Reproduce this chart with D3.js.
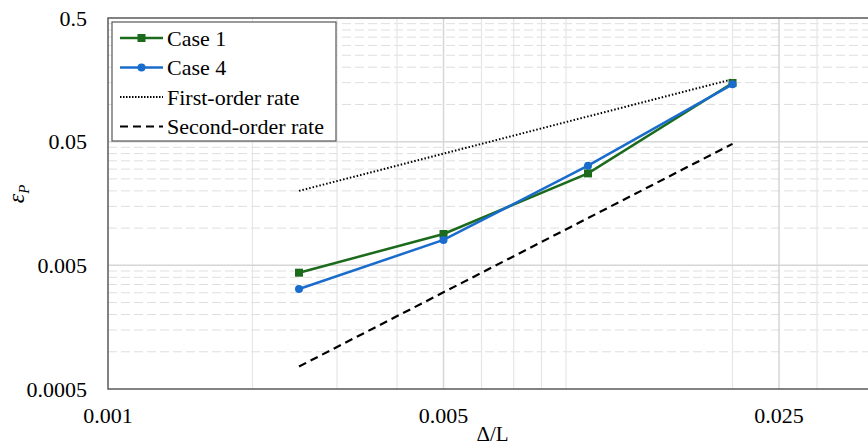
<!DOCTYPE html>
<html>
<head>
<meta charset="utf-8">
<script src="https://cdn.jsdelivr.net/npm/d3@7"></script>
<style>
  body { margin: 0; background: #fff; }
  svg { display: block; }
</style>
</head>
<body>
<div id="chart"></div>
<script>
// data
var xValues     = [0.0025, 0.005, 0.01, 0.02];
var case1       = [0.00436, 0.00896, 0.0277, 0.149];
var case4       = [0.00322, 0.00802, 0.0320, 0.1455];
var rateX       = [0.0025, 0.02];
var firstOrder  = [0.02, 0.16];
var secondOrder = [0.00076, 0.048];
var xTickValues = [0.001, 0.005, 0.025];
var yTickValues = [0.5, 0.05, 0.005, 0.0005];
var legendNames = ["Case 1", "Case 4", "First-order rate", "Second-order rate"];

var W = 868, H = 446;
var pLeft = 108, pTop = 18, pRight = 877, pBottom = 389;

var x = d3.scaleLog().domain([0.001, 0.04]).range([pLeft, pRight]);
var y = d3.scaleLog().domain([0.0005, 0.5]).range([pBottom, pTop]);

var svg = d3.select("#chart").append("svg")
    .attr("width", W)
    .attr("height", H)
    .style("font-family", "Liberation Serif");

/* minor gridlines */
var xMinor = [];
[0.001, 0.01].forEach(function(b) {
  d3.range(2, 10).forEach(function(k) {
    var v = +(b * k).toFixed(6);
    if (v < 0.04 && xTickValues.indexOf(v) < 0) xMinor.push(v);
  });
});
var yMinor = [];
[0.0005, 0.005, 0.05].forEach(function(b) {
  d3.range(2, 10).forEach(function(k) { yMinor.push(b * k); });
});

svg.selectAll(".yminor")
  .data(yMinor)
  .enter().append("line")
  .attr("x1", pLeft).attr("x2", pRight)
  .attr("y1", function(d) { return y(d); })
  .attr("y2", function(d) { return y(d); })
  .style("stroke", "#dedede")
  .style("stroke-width", 1)
  .style("stroke-dasharray", "9,4");

svg.selectAll(".xminor")
  .data(xMinor)
  .enter().append("line")
  .attr("y1", pTop).attr("y2", pBottom)
  .attr("x1", function(d) { return x(d); })
  .attr("x2", function(d) { return x(d); })
  .style("stroke", "#e6e6e6")
  .style("stroke-width", 1.2);

/* major gridlines */
svg.selectAll(".ymajor")
  .data(yTickValues.slice(1, 3))
  .enter().append("line")
  .attr("x1", pLeft).attr("x2", pRight)
  .attr("y1", function(d) { return y(d); })
  .attr("y2", function(d) { return y(d); })
  .style("stroke", "#d6d6d6")
  .style("stroke-width", 1.5);

svg.selectAll(".xmajor")
  .data(xTickValues.slice(1))
  .enter().append("line")
  .attr("y1", pTop).attr("y2", pBottom)
  .attr("x1", function(d) { return x(d); })
  .attr("x2", function(d) { return x(d); })
  .style("stroke", "#d6d6d6")
  .style("stroke-width", 1.5);

/* plot frame */
svg.append("rect")
  .attr("x", pLeft).attr("y", pTop)
  .attr("width", pRight - pLeft).attr("height", pBottom - pTop)
  .style("fill", "none")
  .style("stroke", "#595959")
  .style("stroke-width", 1.5);

/* tick labels */
svg.selectAll(".ylabel")
  .data(yTickValues)
  .enter().append("text")
  .attr("x", 87)
  .attr("y", function(d) { return y(d); })
  .attr("dy", "0.35em")
  .attr("text-anchor", "end")
  .style("font-size", "22px")
  .text(function(d) { return d; });

svg.selectAll(".xlabel")
  .data(xTickValues)
  .enter().append("text")
  .attr("x", function(d) { return x(d); })
  .attr("y", 423)
  .attr("text-anchor", "middle")
  .style("font-size", "22px")
  .text(function(d) { return d; });

/* axis titles */
svg.append("text")
  .attr("x", (pLeft + pRight) / 2)
  .attr("y", 441)
  .attr("text-anchor", "middle")
  .style("font-size", "21px")
  .text("Δ/L");

var yt = svg.append("text")
  .attr("transform", "translate(24,194) rotate(-90)")
  .attr("text-anchor", "middle")
  .style("font-size", "24px")
  .style("font-style", "italic");
yt.append("tspan").text("ε");
yt.append("tspan").attr("dy", 5).style("font-size", "15px").text("P");

/* rate lines */
var line = d3.line()
  .x(function(d) { return x(d[0]); })
  .y(function(d) { return y(d[1]); });

svg.append("path")
  .datum(d3.zip(rateX, firstOrder))
  .attr("d", line)
  .style("fill", "none")
  .style("stroke", "#000")
  .style("stroke-width", 2)
  .style("stroke-dasharray", "1.5,2");

svg.append("path")
  .datum(d3.zip(rateX, secondOrder))
  .attr("d", line)
  .style("fill", "none")
  .style("stroke", "#000")
  .style("stroke-width", 2.2)
  .style("stroke-dasharray", "8,5");

/* case series */
var green = "#1c6b1c", blue = "#1a6ccc";

svg.append("path")
  .datum(d3.zip(xValues, case1))
  .attr("d", line)
  .style("fill", "none")
  .style("stroke", green)
  .style("stroke-width", 2.5);

svg.selectAll(".sq")
  .data(d3.zip(xValues, case1))
  .enter().append("rect")
  .attr("x", function(d) { return x(d[0]) - 4; })
  .attr("y", function(d) { return y(d[1]) - 4; })
  .attr("width", 8).attr("height", 8)
  .style("fill", green);

svg.append("path")
  .datum(d3.zip(xValues, case4))
  .attr("d", line)
  .style("fill", "none")
  .style("stroke", blue)
  .style("stroke-width", 2.5);

svg.selectAll(".dot")
  .data(d3.zip(xValues, case4))
  .enter().append("circle")
  .attr("cx", function(d) { return x(d[0]); })
  .attr("cy", function(d) { return y(d[1]); })
  .attr("r", 4)
  .style("fill", blue);

/* legend */
var lg = svg.append("g").attr("transform", "translate(112,22)");
lg.append("rect")
  .attr("width", 224).attr("height", 119)
  .style("fill", "#fff")
  .style("stroke", "#595959")
  .style("stroke-width", 1.2);

var rowY = function(i) { return 16 + i * 29.5; };
var styles = [
  { color: green, width: 2.5, dash: null, marker: "square" },
  { color: blue,  width: 2.5, dash: null, marker: "circle" },
  { color: "#000", width: 1.8, dash: "1.5,1.5", marker: null },
  { color: "#000", width: 2.2, dash: "8,5", marker: null }
];

legendNames.forEach(function(name, i) {
  var s = styles[i], yy = rowY(i);
  lg.append("line")
    .attr("x1", 8).attr("x2", 51)
    .attr("y1", yy).attr("y2", yy)
    .style("stroke", s.color)
    .style("stroke-width", s.width)
    .style("stroke-dasharray", s.dash);
  if (s.marker == "square") {
    lg.append("rect")
      .attr("x", 29.5 - 4).attr("y", yy - 4)
      .attr("width", 8).attr("height", 8)
      .style("fill", s.color);
  } else if (s.marker == "circle") {
    lg.append("circle")
      .attr("cx", 29.5).attr("cy", yy).attr("r", 4)
      .style("fill", s.color);
  }
  lg.append("text")
    .attr("x", 55)
    .attr("y", yy)
    .attr("dy", "0.35em")
    .style("font-size", "22px")
    .text(name);
});
</script>
</body>
</html>
